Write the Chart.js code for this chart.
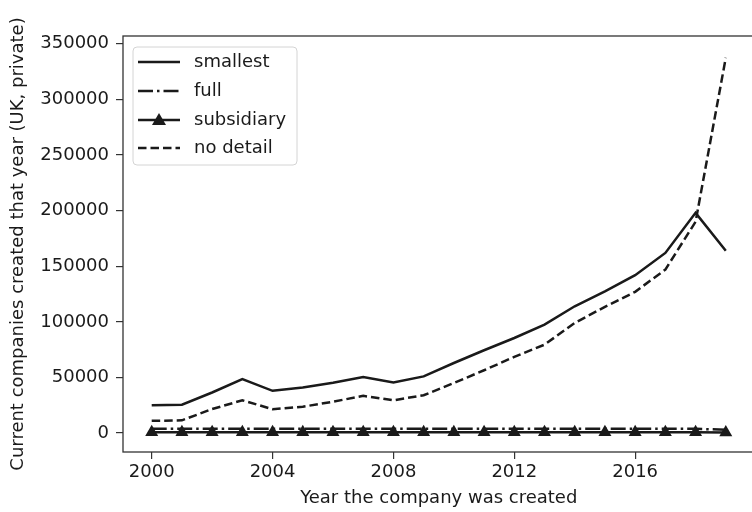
<!DOCTYPE html>
<html>
<head>
<meta charset="utf-8">
<script src="https://cdn.jsdelivr.net/npm/chart.js@4"></script>
<style>
  html, body { margin: 0; padding: 0; background: #fff; overflow: hidden; }
  #wrap { width: 762px; height: 512px; }
</style>
</head>
<body>
<div id="wrap"><canvas id="companiesChart"></canvas></div>
<script>
// companies created per year, by accounts type
const years = [2000, 2001, 2002, 2003, 2004, 2005, 2006, 2007, 2008, 2009,
               2010, 2011, 2012, 2013, 2014, 2015, 2016, 2017, 2018, 2019];
const smallest = [25000, 25500, 36500, 48500, 38000, 41000, 45300, 50500, 45500, 51000,
                  63000, 74500, 85500, 97500, 114000, 127500, 142000, 162000, 198000, 164000];
const full = [4000, 4000, 3900, 4000, 4000, 3900, 4000, 4000, 3900, 3900,
              3900, 3900, 3900, 3900, 3900, 3900, 3800, 3800, 3800, 3000];
const subsidiary = [700, 700, 700, 700, 700, 700, 700, 700, 700, 700,
                    700, 700, 700, 700, 700, 700, 700, 700, 700, 600];
const noDetail = [11000, 11500, 21600, 29500, 21500, 23700, 28200, 33500, 29500, 34000,
                  45000, 56500, 68500, 79500, 99000, 113500, 127000, 147000, 190000, 337500];

const xTicks = [2000, 2004, 2008, 2012, 2016];
const yTicks = [0, 50000, 100000, 150000, 200000, 250000, 300000, 350000];

const ink = '#1a1a1a';
const FONT = 'DejaVu Sans';
const lw = 2.5;

function pts(vals) {
    return years.map((y, i) => ({x: y, y: vals[i]}));
}

const seriesDefs = [
    {label: 'smallest', data: smallest, dash: [], marker: false},
    {label: 'full', data: full, dash: [15, 4, 2.5, 4], marker: false},
    {label: 'subsidiary', data: subsidiary, dash: [], marker: true},
    {label: 'no detail', data: noDetail, dash: [8.5, 4], marker: false}
];

// frame round the plot area + the legend box
const framePlugin = {
    id: 'frame',
    afterDraw(chart) {
        const {ctx, chartArea: a} = chart;
        ctx.save();
        ctx.strokeStyle = '#333';
        ctx.lineWidth = 1.3;
        ctx.strokeRect(a.left, a.top, a.right - a.left, a.bottom - a.top);

        // legend
        const bx = 133, by = 47, bw = 164, bh = 118, r = 4;
        ctx.beginPath();
        ctx.moveTo(bx + r, by);
        ctx.arcTo(bx + bw, by, bx + bw, by + bh, r);
        ctx.arcTo(bx + bw, by + bh, bx, by + bh, r);
        ctx.arcTo(bx, by + bh, bx, by, r);
        ctx.arcTo(bx, by, bx + bw, by, r);
        ctx.closePath();
        ctx.fillStyle = 'rgba(255,255,255,0.8)';
        ctx.fill();
        ctx.strokeStyle = '#d4d4d4';
        ctx.lineWidth = 1;
        ctx.stroke();

        const rows = [62, 91, 120, 148];
        ctx.font = '18px "' + FONT + '"';
        ctx.textBaseline = 'middle';
        ctx.textAlign = 'left';
        seriesDefs.forEach((s, i) => {
            const y = rows[i];
            ctx.beginPath();
            ctx.setLineDash(s.dash);
            ctx.strokeStyle = ink;
            ctx.lineWidth = lw;
            ctx.moveTo(138, y);
            ctx.lineTo(180, y);
            ctx.stroke();
            ctx.setLineDash([]);
            if (s.marker) {
                ctx.beginPath();
                ctx.moveTo(159, y - 7);
                ctx.lineTo(166, y + 5);
                ctx.lineTo(152, y + 5);
                ctx.closePath();
                ctx.fillStyle = ink;
                ctx.fill();
            }
            ctx.fillStyle = ink;
            ctx.fillText(s.label, 194, y);
        });
        ctx.restore();
    }
};

new Chart('companiesChart', {
    type: 'line',
    data: {
        datasets: seriesDefs.map(s => ({
            label: s.label,
            data: pts(s.data),
            borderColor: ink,
            backgroundColor: ink,
            borderWidth: lw,
            borderDash: s.dash,
            pointStyle: 'triangle',
            pointRadius: s.marker ? 7.5 : 0,
            pointBorderWidth: 0,
            tension: 0,
            fill: false
        }))
    },
    options: {
        responsive: true,
        maintainAspectRatio: false,
        animation: false,
        layout: {padding: {top: 36, right: 3, left: 0, bottom: 0}},
        plugins: {
            legend: {display: false},
            tooltip: {enabled: false}
        },
        scales: {
            x: {
                type: 'linear',
                min: 1999.05,
                max: 2019.95,
                afterBuildTicks: s => { s.ticks = xTicks.map(v => ({value: v})); },
                afterFit: s => { s.height = 60; },
                border: {display: false},
                grid: {drawOnChartArea: false, drawTicks: true, tickLength: 7, color: '#333', lineWidth: 1.2},
                ticks: {
                    color: ink,
                    padding: 3,
                    maxRotation: 0,
                    font: {family: FONT, size: 18},
                    callback: v => String(v)
                },
                title: {
                    display: true,
                    text: 'Year the company was created',
                    color: ink,
                    font: {family: FONT, size: 18},
                    padding: {top: 0, bottom: 3}
                }
            },
            y: {
                min: -17000,
                max: 357000,
                afterBuildTicks: s => { s.ticks = yTicks.map(v => ({value: v})); },
                afterFit: s => { s.width = 123; },
                border: {display: false},
                grid: {drawOnChartArea: false, drawTicks: true, tickLength: 7, color: '#333', lineWidth: 1.2},
                ticks: {
                    color: ink,
                    padding: 7,
                    font: {family: FONT, size: 18},
                    callback: v => String(v)
                },
                title: {
                    display: true,
                    text: 'Current companies created that year (UK, private)',
                    color: ink,
                    font: {family: FONT, size: 18},
                    padding: {top: 8, bottom: 0}
                }
            }
        }
    },
    plugins: [framePlugin]
});
</script>
</body>
</html>
